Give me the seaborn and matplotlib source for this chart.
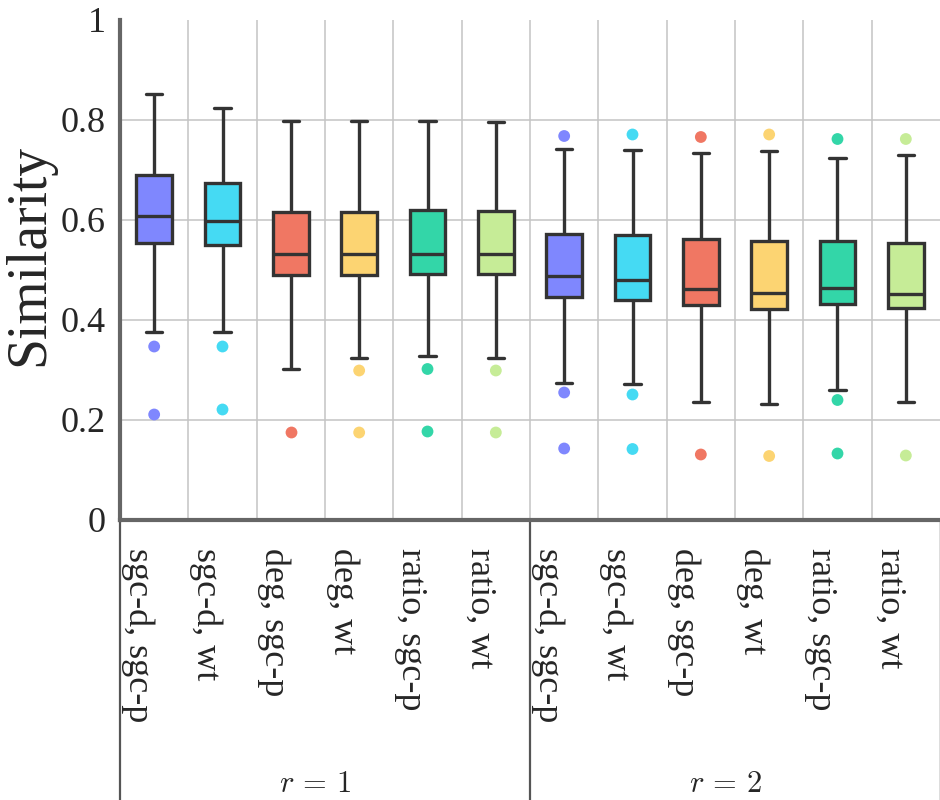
import matplotlib
matplotlib.use("Agg")
import matplotlib.pyplot as plt
import matplotlib.transforms as mtransforms
import numpy as np
import pandas as pd
import seaborn as sns

# ---- data ----
categories = ["sgc-d, sgc-p", "sgc-d, wt", "deg, sgc-p", "deg, wt", "ratio, sgc-p", "ratio, wt",
              "sgc-d, sgc-p", "sgc-d, wt", "deg, sgc-p", "deg, wt", "ratio, sgc-p", "ratio, wt"]
groups = [r"$r\,=\,1$", r"$r\,=\,2$"]
whisk_low = [0.377, 0.377, 0.302, 0.325, 0.328, 0.325, 0.275, 0.273, 0.237, 0.233, 0.260, 0.237]
q1 = [0.555, 0.551, 0.490, 0.490, 0.493, 0.492, 0.447, 0.441, 0.430, 0.423, 0.433, 0.425]
median = [0.609, 0.599, 0.533, 0.532, 0.533, 0.533, 0.489, 0.480, 0.462, 0.455, 0.465, 0.453]
q3 = [0.690, 0.675, 0.617, 0.616, 0.621, 0.618, 0.573, 0.570, 0.563, 0.559, 0.559, 0.555]
whisk_high = [0.852, 0.825, 0.798, 0.798, 0.799, 0.797, 0.743, 0.740, 0.735, 0.738, 0.725, 0.730]
outliers = [[0.347, 0.211], [0.347, 0.221], [0.177], [0.299, 0.175], [0.302, 0.177], [0.299, 0.175],
            [0.768, 0.255, 0.143], [0.771, 0.251, 0.142], [0.766, 0.131], [0.771, 0.128],
            [0.762, 0.240, 0.133], [0.762, 0.129]]
colors = ["#7F87FE", "#45DAF3", "#F07763", "#FCD472", "#33D6A8", "#C6EC97"] * 2
yticks = [0, 0.2, 0.4, 0.6, 0.8, 1]
ytick_labels = ["0", "0.2", "0.4", "0.6", "0.8", "1"]

# ---- tables for seaborn ----
ids = [str(i) for i in range(len(categories))]
box_rows = []
for i, cid in enumerate(ids):
    for v in (whisk_low[i], q1[i], median[i], q3[i], whisk_high[i]):
        box_rows.append({"id": cid, "value": v})
box_df = pd.DataFrame(box_rows)
out_rows = [{"id": cid, "value": v} for cid, vals in zip(ids, outliers) for v in vals]
out_df = pd.DataFrame(out_rows)
palette = dict(zip(ids, colors))

sns.set_style("white")
plt.rcParams["font.family"] = ["Liberation Serif", "DejaVu Serif"]
plt.rcParams["mathtext.fontset"] = "cm"

fig = plt.figure(figsize=(9.4, 8), dpi=100)
ax = fig.add_axes([120 / 940, 1 - 520 / 800, 820 / 940, 500 / 800])

sns.boxplot(data=box_df, x="id", y="value", hue="id", order=ids, hue_order=ids,
            palette=palette, width=0.52, whis=(0, 100), showfliers=False,
            linecolor="#333333", linewidth=2.4, legend=False, ax=ax, saturation=1,
            capwidths=0.24, zorder=3)
sns.stripplot(data=out_df, x="id", y="value", hue="id", order=ids, hue_order=ids,
              palette=palette, jitter=False, size=8.5, linewidth=0, legend=False,
              ax=ax, zorder=4)

ax.set_xlim(-0.5, len(ids) - 0.5)
ax.set_ylim(0, 1)
ax.set_yticks(yticks)
ax.set_yticklabels(ytick_labels, fontsize=26)
ax.set_xticks(range(len(ids)))
ax.set_xticklabels(categories, rotation=-90, ha="right", va="top", fontsize=26)
shift = mtransforms.ScaledTranslation(4 / 100, 0, fig.dpi_scale_trans)
for lab in ax.get_xticklabels():
    lab.set_transform(lab.get_transform() + shift)
ax.tick_params(axis="both", length=0)
ax.tick_params(axis="y", pad=10)
ax.tick_params(axis="x", pad=20)

ax.set_xticks(np.arange(0.5, len(ids) - 0.5, 1), minor=True)
ax.grid(False)
ax.grid(True, which="minor", axis="x", color="#c4c4c4", linewidth=1.1, zorder=0)
for yv in yticks[1:-1]:
    ax.axhline(yv, color="#c4c4c4", linewidth=1.1, zorder=0)
ax.set_axisbelow(True)

for side in ("top", "right"):
    ax.spines[side].set_visible(False)
for side in ("left", "bottom"):
    ax.spines[side].set_color("#666666")
    ax.spines[side].set_linewidth(3)

ax.set_xlabel("")
ax.set_ylabel("Similarity", fontsize=40, va="center")
ax.yaxis.set_label_coords(-0.111, 0.53)

# group separators and labels below the axis
trans = mtransforms.blended_transform_factory(ax.transData, ax.transAxes)
for xpos, lw in ((-0.5, 1.6), (5.5, 1.6), (len(ids) - 0.5, 1.0)):
    ax.plot([xpos, xpos], [0, -0.6], transform=trans, color="#555555",
            linewidth=lw, clip_on=False, solid_capstyle="butt")
n_per = len(ids) // len(groups)
for g, name in enumerate(groups):
    ax.text(g * n_per + (n_per - 1) / 2 - 0.14, -0.528, name, transform=trans,
            ha="center", va="center", fontsize=22)

fig.savefig("out.png", dpi=100)
